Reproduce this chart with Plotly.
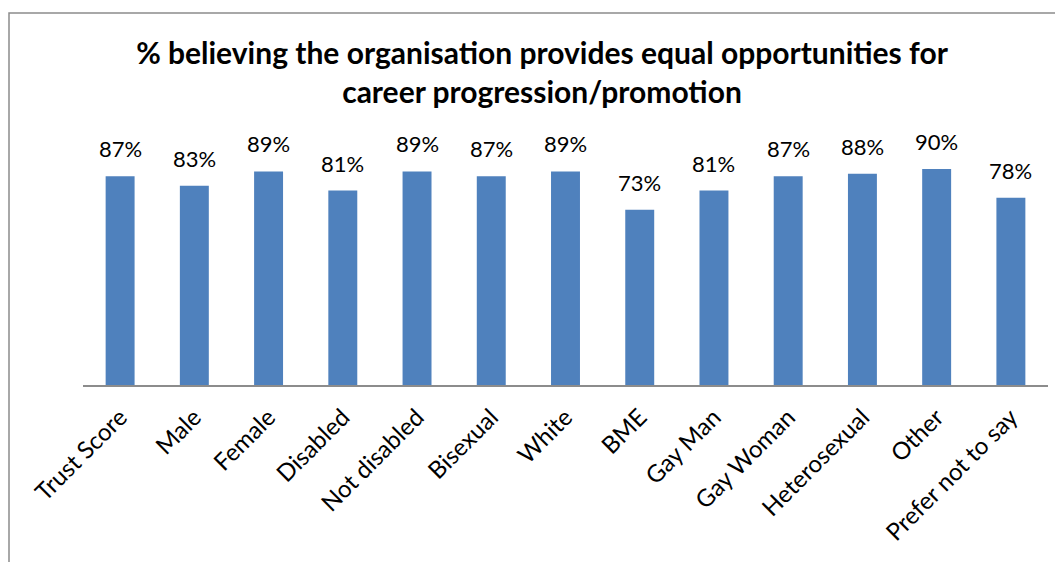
import plotly.graph_objects as go

categories = ["Trust Score", "Male", "Female", "Disabled", "Not disabled", "Bisexual",
              "White", "BME", "Gay Man", "Gay Woman", "Heterosexual", "Other", "Prefer not to say"]
values = [0.87, 0.83, 0.89, 0.81, 0.89, 0.87, 0.89, 0.73, 0.81, 0.87, 0.88, 0.90, 0.78]
title_text = "% believing the organisation provides equal opportunities for<br>career progression/promotion"

FONT = "Lato, Open Sans, sans-serif"
OFF = 8  # page body margin
W, H = 1063, 562
# target plot area in screen pixels: x 83..1048, y 145..385
L, R, T, B = 83 - OFF, W + OFF - 1048, 145 - OFF, H + OFF - 385

fig = go.Figure(go.Bar(x=categories, y=values, marker=dict(color="#4F81BD", line=dict(width=0)),
                       width=0.39, hoverinfo="skip"))

for c, v in zip(categories, values):
    fig.add_annotation(x=c, y=v, text=f"{round(v*100)}%", showarrow=False, yanchor="bottom",
                       yshift=12, font=dict(size=22, color="black", family=FONT))

pw = W - L - R
ph = H - T - B
def px_x(p):  # screen px -> paper
    return (p - OFF - L) / pw
def px_y(p):
    return (H - B - (p - OFF)) / ph

fig.add_shape(type="rect", xref="paper", yref="paper",
              x0=px_x(OFF + 1), x1=px_x(1075), y0=px_y(580), y1=px_y(13),
              line=dict(color="#8c8c8c", width=1.5), fillcolor="rgba(0,0,0,0)", layer="below")

fig.update_layout(
    width=W, height=H,
    margin=dict(l=L, r=R, t=T, b=B),
    paper_bgcolor="white", plot_bgcolor="white",
    title=dict(text=title_text, x=(542 - OFF) / W, xanchor="center", y=1 - (64 - OFF) / H, yanchor="middle",
               font=dict(size=30, color="black", family=FONT, weight="bold")),
    showlegend=False,
    xaxis=dict(showline=True, linecolor="#8c8c8c", linewidth=1.5, ticks="", tickangle=-45,
               ticklabelstandoff=7,
               tickfont=dict(size=24, color="black", family=FONT), showgrid=False),
    yaxis=dict(range=[0, 1], visible=False, showgrid=False),
)

fig.write_html("out.html")
